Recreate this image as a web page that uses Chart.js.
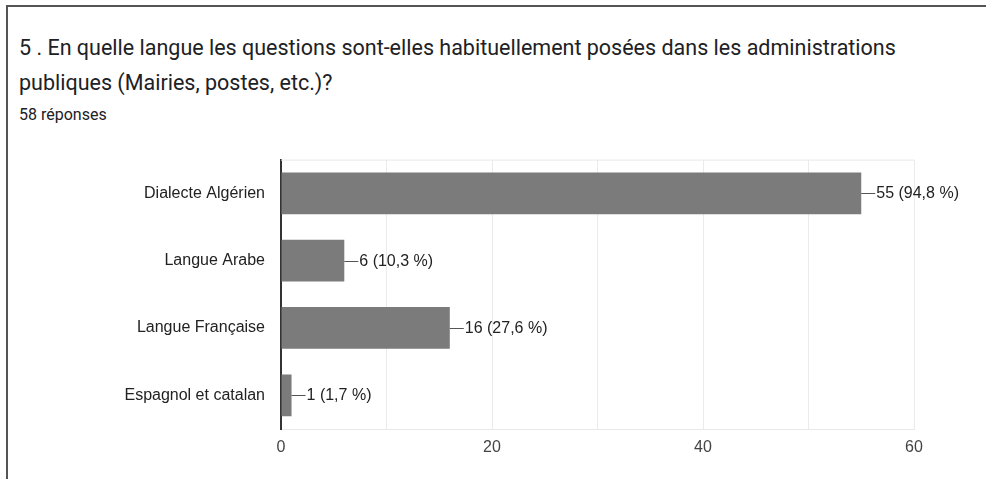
<!DOCTYPE html>
<html>
<head>
<meta charset="utf-8">
<script src="https://cdn.jsdelivr.net/npm/chart.js@4"></script>
<style>
  html, body { margin: 0; padding: 0; background: #fff; }
  body { width: 986px; height: 479px; position: relative; overflow: hidden; }
  .card { position: absolute; left: 6px; top: 5px; width: 990px; height: 490px; border: 2px solid #555; box-sizing: border-box; }
  .title { position: absolute; left: 19px; top: 30px; width: 930px; font-family: Roboto, "Noto Sans", sans-serif; font-size: 21.5px; line-height: 35px; color: #202124; }
  .count { position: absolute; left: 19px; top: 105px; font-family: Roboto, "Noto Sans", sans-serif; font-size: 16px; color: #202124; }
  #chart { position: absolute; left: 0; top: 134px; }
</style>
</head>
<body>
<div class="card"></div>
<div class="title">5 . En quelle langue les questions sont-elles habituellement posées dans les administrations publiques (Mairies, postes, etc.)?</div>
<div class="count">58 réponses</div>
<canvas id="chart" width="986" height="345"></canvas>
<script>
const categories = ['Dialecte Algérien', 'Langue Arabe', 'Langue Française', 'Espagnol et catalan']
const counts = [55, 6, 16, 1]
const totalAnswers = 58
const xTicks = [0, 20, 40, 60]

// petit plugin pour les étiquettes "— 55 (94,8 %)"
const valueLabels = {
  id: 'valueLabels',
  afterDatasetsDraw(chart) {
    const ctx = chart.ctx
    const area = chart.chartArea
    ctx.save()
    // ligne du haut du cadre
    ctx.strokeStyle = '#e8e8e8'
    ctx.lineWidth = 1
    ctx.beginPath()
    ctx.moveTo(area.left, area.top + 0.5)
    ctx.lineTo(area.right, area.top + 0.5)
    ctx.stroke()

    const meta = chart.getDatasetMeta(0)
    ctx.font = '16px "Liberation Sans", Arial, sans-serif'
    ctx.fillStyle = '#222'
    ctx.textBaseline = 'middle'
    meta.data.forEach((bar, i) => {
      const v = counts[i]
      const pct = (v / totalAnswers * 100).toFixed(1).replace('.', ',')
      const x = bar.x
      const y = Math.round(bar.y) + 0.5
      ctx.strokeStyle = '#555'
      ctx.beginPath()
      ctx.moveTo(x, y)
      ctx.lineTo(x + 14, y)
      ctx.stroke()
      ctx.fillText(v + ' (' + pct + ' %)', x + 15, y)
    })
    ctx.restore()
  }
}

new Chart(document.getElementById('chart'), {
  type: 'bar',
  data: {
    labels: categories,
    datasets: [{
      data: counts,
      backgroundColor: '#7b7b7b',
      borderWidth: 0,
      barPercentage: 0.62,
      categoryPercentage: 1
    }]
  },
  options: {
    indexAxis: 'y',
    responsive: false,
    animation: false,
    layout: { padding: { top: 11, right: 72, left: 0, bottom: 0 } },
    plugins: {
      legend: { display: false },
      tooltip: { enabled: false }
    },
    scales: {
      x: {
        min: 0,
        max: 60,
        ticks: {
          stepSize: 10,
          padding: 9,
          color: '#444',
          font: { family: '"Liberation Sans", Arial, sans-serif', size: 16 },
          callback: (v) => xTicks.includes(v) ? v : ''
        },
        grid: { color: '#ebebeb', drawTicks: false },
        border: { color: '#e8e8e8' },
        afterFit: (scale) => { scale.height = 50 }
      },
      y: {
        ticks: {
          padding: 16,
          color: '#222',
          font: { family: '"Liberation Sans", Arial, sans-serif', size: 16 }
        },
        grid: { display: false, drawTicks: false },
        border: { color: '#333', width: 2 },
        afterFit: (scale) => { scale.width = 281 }
      }
    }
  },
  plugins: [valueLabels]
})
</script>
</body>
</html>
